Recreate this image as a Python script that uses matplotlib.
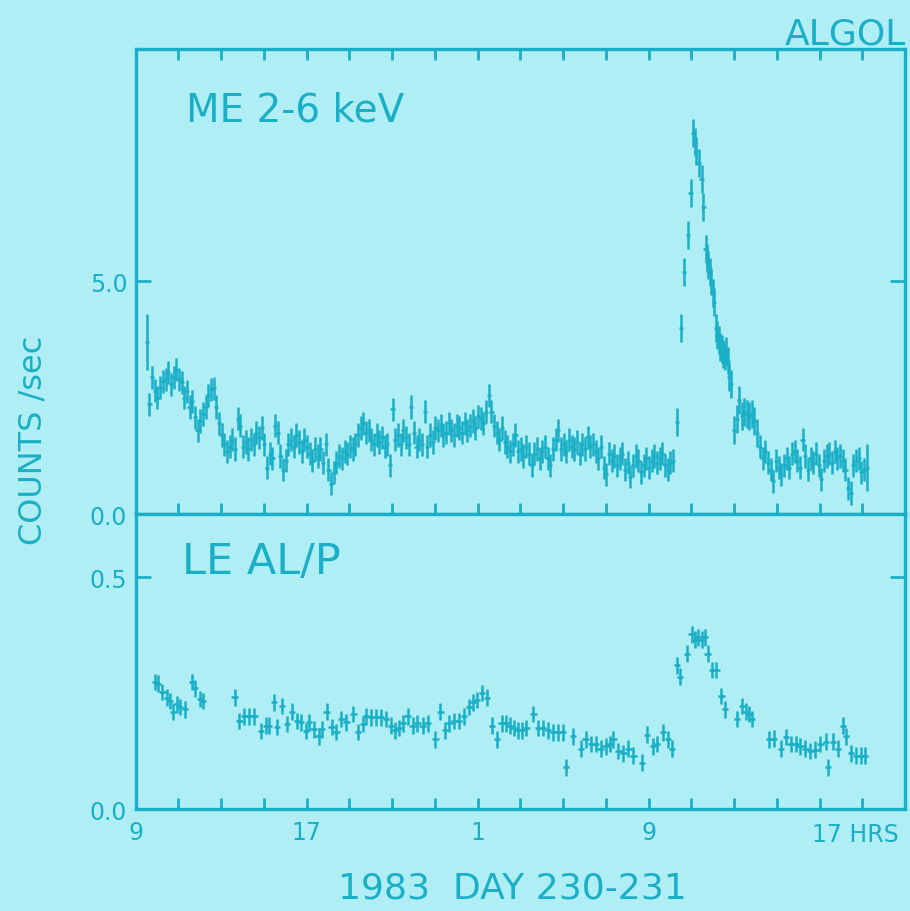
import numpy as np
import matplotlib
matplotlib.use("Agg")
import matplotlib.pyplot as plt

# ---------------- data ----------------
# ME 2-6 keV, quiet part before flare (uniform bins)
ME_Q_T0 = 9.65
ME_Q_BIN = 0.125
me_quiet = [
    2.36, 2.94, 2.65, 2.5, 2.72, 2.85, 2.9, 3.05,
    2.79, 2.94, 3.1, 2.9, 2.83, 2.5, 2.64, 2.3,
    2.42, 2.08, 1.8, 2.0, 2.15, 2.3, 2.55, 2.68,
    2.7, 2.3, 1.95, 1.7, 1.5, 1.35, 1.45, 1.6,
    1.4, 2.05, 1.9, 1.45, 1.55, 1.4, 1.6, 1.5,
    1.75, 1.65, 1.85, 1.5, 1.0, 1.3, 1.2, 1.9,
    1.75, 1.25, 0.95, 1.15, 1.5, 1.6, 1.45, 1.7,
    1.55, 1.35, 1.6, 1.45, 1.3, 1.15, 1.4, 1.25,
    1.4, 1.1, 1.5, 0.95, 0.65, 0.9, 1.1, 1.25,
    1.2, 1.35, 1.3, 1.45, 1.4, 1.5, 1.7, 1.85,
    1.95, 1.75, 1.8, 1.6, 1.5, 1.7, 1.55, 1.65,
    1.45, 1.5, 1.05, 2.25, 1.6, 1.7, 1.5, 1.8,
    1.65, 1.5, 2.3, 1.75, 1.45, 1.6, 1.5, 2.2,
    1.45, 1.7, 1.55, 1.85, 1.8, 1.9, 1.7, 1.75,
    1.95, 1.8, 1.7, 1.9, 1.85, 1.75, 1.95, 1.8,
    1.9, 2.0, 1.85, 2.1, 2.05, 1.95, 2.2, 2.55,
    2.2, 1.9, 1.75, 1.6, 1.85, 1.55, 1.45, 1.35,
    1.5, 1.7, 1.35, 1.4, 1.25, 1.45, 1.3, 1.05,
    1.3, 1.4, 1.2, 1.35, 1.45, 1.2, 1.05, 1.4,
    1.6, 1.8, 1.4, 1.5, 1.35, 1.6, 1.45, 1.4,
    1.55, 1.3, 1.5, 1.4, 1.65, 1.45, 1.5, 1.35,
    1.2, 1.45, 1.0, 0.85, 1.3, 1.15, 1.25, 1.05,
    1.2, 1.3, 0.95, 1.1, 0.8, 1.05, 1.25, 1.15,
    0.9, 1.05, 1.2, 1.0, 1.15, 1.25, 1.1, 1.2,
    1.3, 1.05, 0.95, 1.1, 1.15,
]
ME_Q_ERR = 0.25

# first ME point (large error)
me_first_t = 9.55
me_first_v = 3.7
me_first_err = 0.6

# ME flare
me_flare_t = [34.32, 34.51, 34.65, 34.83, 34.97, 35.09, 35.16, 35.23, 35.34, 35.48,
              35.57, 35.67, 35.73, 35.80, 35.87, 35.94, 36.01, 36.08, 36.16, 36.22,
              36.29, 36.36, 36.43, 36.50, 36.57, 36.64, 36.71, 36.78, 36.87, 37.00,
              37.12, 37.24, 37.36, 37.48, 37.59, 37.71, 37.82, 37.94, 38.08]
me_flare_v = [1.97, 4.0, 5.2, 6.0, 6.9, 8.2, 8.0, 7.8, 7.55, 7.2,
              6.6, 5.7, 5.5, 5.35, 5.2, 5.0, 4.75, 4.55, 4.0, 3.85,
              3.75, 3.6, 3.55, 3.45, 3.4, 3.5, 3.3, 2.95, 2.8, 1.8,
              2.05, 2.45, 2.1, 2.2, 2.15, 2.1, 2.15, 2.0, 1.75]
ME_F_ERR = 0.3

# ME after flare
ME_P_T0 = 38.21
ME_P_BIN = 0.125
me_post = [1.45, 1.2, 1.35, 1.1, 0.95, 0.7, 1.15, 1.0, 0.85, 1.05,
           1.2, 1.0, 1.3, 1.35, 1.15, 1.0, 1.6, 1.25, 0.95, 1.2,
           1.1, 1.3, 1.05, 0.75, 1.15, 1.25, 1.3, 1.1, 1.35, 1.2,
           1.25, 1.15, 0.95, 0.55, 0.45, 1.05, 1.15, 1.2, 0.9, 0.95, 1.0]
me_last_err = 0.5

# LE AL/P
le_t = [9.93, 10.06, 10.25, 10.48, 10.62, 10.76, 10.94, 11.08, 11.31, 11.64, 11.78, 12.01, 12.15,
        13.63, 13.86, 14.09, 14.32, 14.56, 14.88, 15.11, 15.25, 15.48, 15.62, 15.85, 16.08,
        16.31, 16.55, 16.73, 16.96, 17.10, 17.33, 17.56, 17.70, 17.94, 18.17, 18.40, 18.63,
        18.86, 19.19, 19.42, 19.65, 19.79, 20.02, 20.25, 20.48, 20.71, 20.94, 21.13, 21.31,
        21.50, 21.73, 21.96, 22.19, 22.43, 22.66, 23.03, 23.26, 23.49, 23.68, 23.91, 24.14,
        24.37, 24.60, 24.79, 24.97, 25.20, 25.44, 25.67, 25.90, 26.13, 26.31, 26.50, 26.69,
        26.87, 27.06, 27.29, 27.61, 27.84, 28.07, 28.31, 28.54, 28.77, 29.00, 29.14, 29.46,
        29.83, 30.06, 30.30, 30.53, 30.76, 30.99, 31.18, 31.36, 31.59, 31.82, 32.06, 32.29,
        32.70, 32.94, 33.21, 33.40, 33.68, 33.91, 34.09,
        34.32, 34.46, 34.79, 35.02, 35.16, 35.30, 35.48, 35.62, 35.76, 35.99, 36.18, 36.41, 36.59,
        37.15, 37.38, 37.56, 37.70, 37.84,
        38.63, 38.86, 39.19, 39.42, 39.65, 39.88, 40.11, 40.34, 40.57, 40.81, 41.04, 41.31,
        41.41, 41.64, 41.87, 42.10, 42.24, 42.47, 42.70, 42.94, 43.12]
le_v = [0.274, 0.27, 0.252, 0.24, 0.233, 0.21, 0.226, 0.22, 0.215, 0.274, 0.26, 0.237, 0.233,
        0.241, 0.19, 0.2, 0.2, 0.2, 0.168, 0.18, 0.18, 0.23, 0.177, 0.222, 0.183,
        0.21, 0.19, 0.187, 0.168, 0.187, 0.172, 0.157, 0.172, 0.21, 0.177, 0.166, 0.194,
        0.187, 0.205, 0.166, 0.183, 0.2, 0.198, 0.198, 0.198, 0.194, 0.18, 0.17, 0.175,
        0.185, 0.2, 0.18, 0.185, 0.18, 0.185, 0.15, 0.21, 0.17, 0.185, 0.19, 0.19,
        0.2, 0.22, 0.23, 0.235, 0.25, 0.24, 0.18, 0.15, 0.185, 0.185, 0.18, 0.175,
        0.17, 0.17, 0.175, 0.205, 0.175, 0.175, 0.17, 0.165, 0.165, 0.165, 0.09, 0.157,
        0.13, 0.15, 0.14, 0.14, 0.13, 0.135, 0.14, 0.15, 0.125, 0.12, 0.13, 0.115,
        0.1, 0.16, 0.135, 0.14, 0.165, 0.15, 0.13,
        0.31, 0.285, 0.335, 0.377, 0.365, 0.37, 0.365, 0.37, 0.335, 0.3, 0.3, 0.244, 0.215,
        0.194, 0.222, 0.21, 0.205, 0.194,
        0.15, 0.152, 0.13, 0.155, 0.14, 0.14, 0.135, 0.13, 0.125, 0.128, 0.14, 0.145,
        0.09, 0.145, 0.13, 0.18, 0.157, 0.12, 0.115, 0.115, 0.115]
LE_ERR = 0.018
LE_XERR = 0.15
ME_XERR = 0.1

x_ticks = [9, 17, 25, 33, 41]
x_ticklabels = ["9", "17", "1", "9", ""]
x_minor = list(range(11, 45, 2))

# ---------------- style ----------------
BG = "#b0eef5"
INK = "#1aafc6"
FONT = "DejaVu Sans"

fig = plt.figure(figsize=(9.10, 9.12), dpi=100, facecolor=BG)
ax1 = fig.add_axes([0.149, 0.4353, 0.8455, 0.5099], facecolor=BG)
ax2 = fig.add_axes([0.149, 0.1118, 0.8455, 0.3235], facecolor=BG, sharex=ax1)

me_q_t = ME_Q_T0 + ME_Q_BIN * np.arange(len(me_quiet))
me_p_t = ME_P_T0 + ME_P_BIN * np.arange(len(me_post))
me_p_err = np.full(len(me_post), ME_Q_ERR)
me_p_err[-1] = me_last_err

ekw = dict(fmt="none", ecolor=INK, elinewidth=1.8, capsize=0)
ax1.errorbar([me_first_t], [me_first_v], yerr=[me_first_err], xerr=ME_XERR, **ekw)
ax1.errorbar(me_q_t, me_quiet, yerr=ME_Q_ERR, xerr=ME_XERR, **ekw)
ax1.errorbar(me_flare_t, me_flare_v, yerr=ME_F_ERR, xerr=ME_XERR, **ekw)
ax1.errorbar(me_p_t, me_post, yerr=me_p_err, xerr=ME_XERR, **ekw)

ax2.errorbar(le_t, le_v, yerr=LE_ERR, xerr=LE_XERR, **ekw)

ax1.set_xlim(9, 45)
ax1.set_ylim(0, 10)
ax2.set_ylim(0, 0.636)

for ax in (ax1, ax2):
    for s in ax.spines.values():
        s.set_color(INK)
        s.set_linewidth(2.4)
    ax.tick_params(which="both", direction="in", colors=INK, width=2.0,
                   labelcolor=INK, labelsize=17)
    ax.tick_params(which="major", length=8)
    ax.tick_params(which="minor", length=8)
    for lab in ax.get_yticklabels() + ax.get_xticklabels():
        lab.set_family(FONT)

ax1.set_xticks(x_ticks)
ax1.set_xticks(x_minor, minor=True)
ax1.tick_params(axis="x", which="both", top=True, bottom=True, labelbottom=False)
ax2.tick_params(axis="x", which="both", top=False, bottom=True, labelbottom=True, pad=8)
ax2.set_xticklabels(x_ticklabels)

ax1.set_yticks([0, 5])
ax1.set_yticklabels(["0.0", "5.0"])
ax2.set_yticks([0, 0.5])
ax2.set_yticklabels(["0.0", "0.5"])
for ax in (ax1, ax2):
    ax.tick_params(axis="y", left=True, right=True, length=11, pad=6)

# texts
fig.text(0.9286, 0.9627, "ALGOL", color=INK, fontsize=26, ha="center", va="center", family=FONT)
fig.text(0.2044, 0.879, "ME 2-6 keV", color=INK, fontsize=28, ha="left", va="center", family=FONT)
fig.text(0.200, 0.3838, "LE AL/P", color=INK, fontsize=31, ha="left", va="center", family=FONT)
fig.text(0.036, 0.5175, "COUNTS /sec", color=INK, fontsize=23, rotation=90,
         ha="center", va="center", family=FONT)
fig.text(0.5626, 0.0263, "1983  DAY 230-231", color=INK, fontsize=26, ha="center",
         va="center", family=FONT)
fig.text(0.9395, 0.0845, "17 HRS", color=INK, fontsize=17, ha="center", va="center", family=FONT)

fig.savefig("out.png", dpi=100, facecolor=BG)
